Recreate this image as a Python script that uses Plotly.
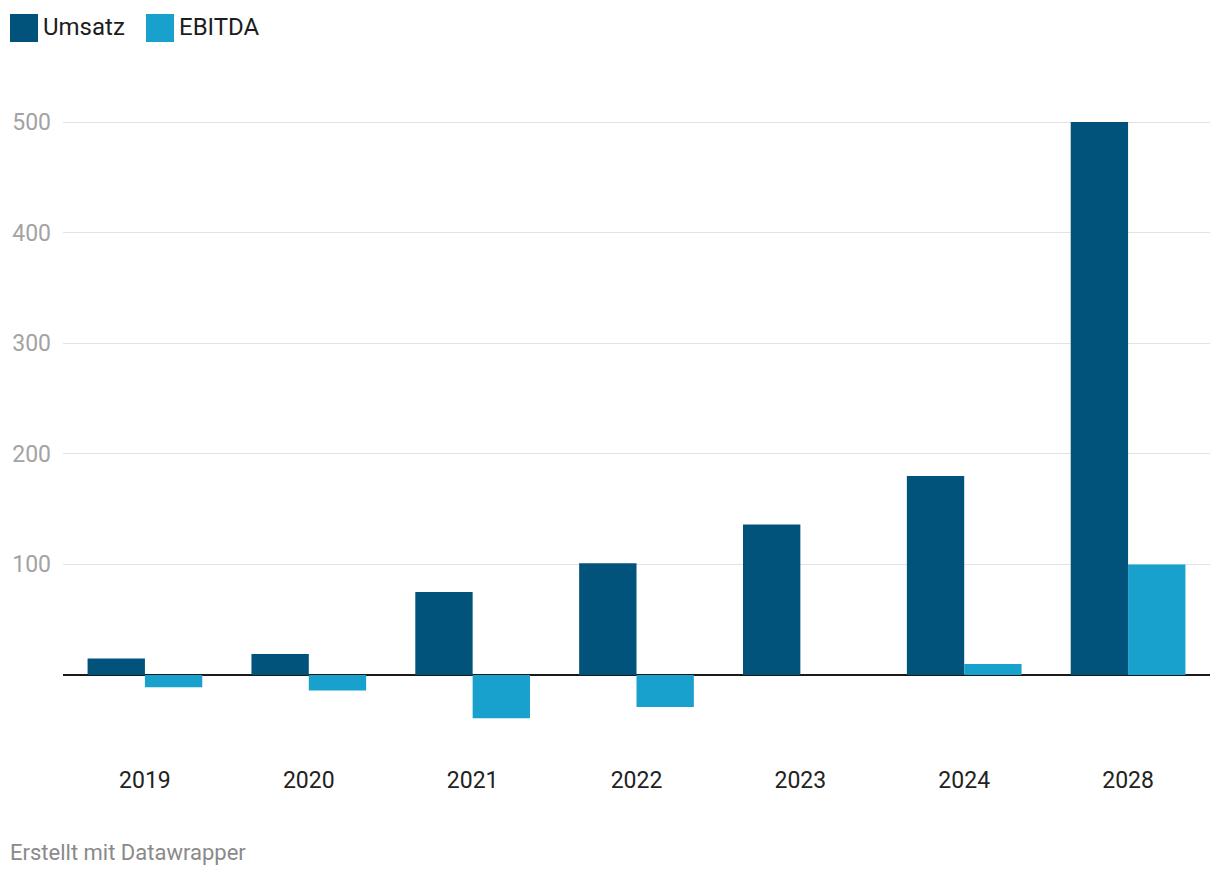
import plotly.graph_objects as go

years = ["2019", "2020", "2021", "2022", "2023", "2024", "2028"]
umsatz = [15, 19, 75, 101, 136, 180, 500]
ebitda = [-11, -14, -39, -29, 0, 10, 100]
y_ticks = [100, 200, 300, 400, 500]

c_umsatz = "#01537b"
c_ebitda = "#18a1cd"
font_family = "Roboto, sans-serif"

OFF = 8  # page body margin
W, H = 1220 - OFF, 878 - OFF
left, right = 63 - OFF, 1210 - OFF
top, bottom = 100 - OFF, 755 - OFF
zero_y, y500 = 675 - OFF, 122 - OFF
px_per_unit = (zero_y - y500) / 500
ymax = 500 + (y500 - top) / px_per_unit
ymin = -(bottom - zero_y) / px_per_unit
pw, ph = right - left, bottom - top


def px(x):
    return (x - OFF - left) / pw


def py(y):
    return (bottom - (y - OFF)) / ph


fig = go.Figure()
fig.add_trace(go.Bar(name="Umsatz", x=years, y=umsatz, marker_color=c_umsatz,
                     marker_line_width=0, showlegend=False))
fig.add_trace(go.Bar(name="EBITDA", x=years, y=ebitda, marker_color=c_ebitda,
                     marker_line_width=0, showlegend=False))

fig.update_layout(
    width=W, height=H,
    margin=dict(l=left, r=W - right, t=top, b=H - bottom),
    barmode="group", bargap=0.30, bargroupgap=0,
    plot_bgcolor="white", paper_bgcolor="white",
    font=dict(family=font_family, size=23, color="#222222"),
    xaxis=dict(type="category", showgrid=False, showline=False, ticks="",
               automargin=False,
               tickfont=dict(size=23, color="#222222"), ticklabelstandoff=9),
    yaxis=dict(range=[ymin, ymax], tickvals=y_ticks, showgrid=True,
               automargin=False,
               gridcolor="#e3e3e3", gridwidth=1, zeroline=True,
               zerolinecolor="#1a1a1a", zerolinewidth=2, showline=False,
               ticks="", tickfont=dict(size=23, color="#a3a3a3"),
               ticklabelstandoff=11),
)

legend_items = [("Umsatz", c_umsatz, 10), ("EBITDA", c_ebitda, 146)]
for name, col, x0 in legend_items:
    fig.add_shape(type="rect", xref="paper", yref="paper",
                  x0=px(x0), x1=px(x0 + 28), y0=py(42), y1=py(14),
                  fillcolor=col, line_width=0)
    fig.add_annotation(text=name, xref="paper", yref="paper",
                       x=px(x0 + 31), y=py(27),
                       xanchor="left", yanchor="middle", showarrow=False,
                       font=dict(size=24, color="#1d1d1d", family=font_family))

fig.add_annotation(text="Erstellt mit Datawrapper", xref="paper", yref="paper",
                   x=px(8), y=py(852), xanchor="left", yanchor="middle",
                   showarrow=False,
                   font=dict(size=22, color="#8a8a8a", family=font_family))

fig.write_html("out.html")
